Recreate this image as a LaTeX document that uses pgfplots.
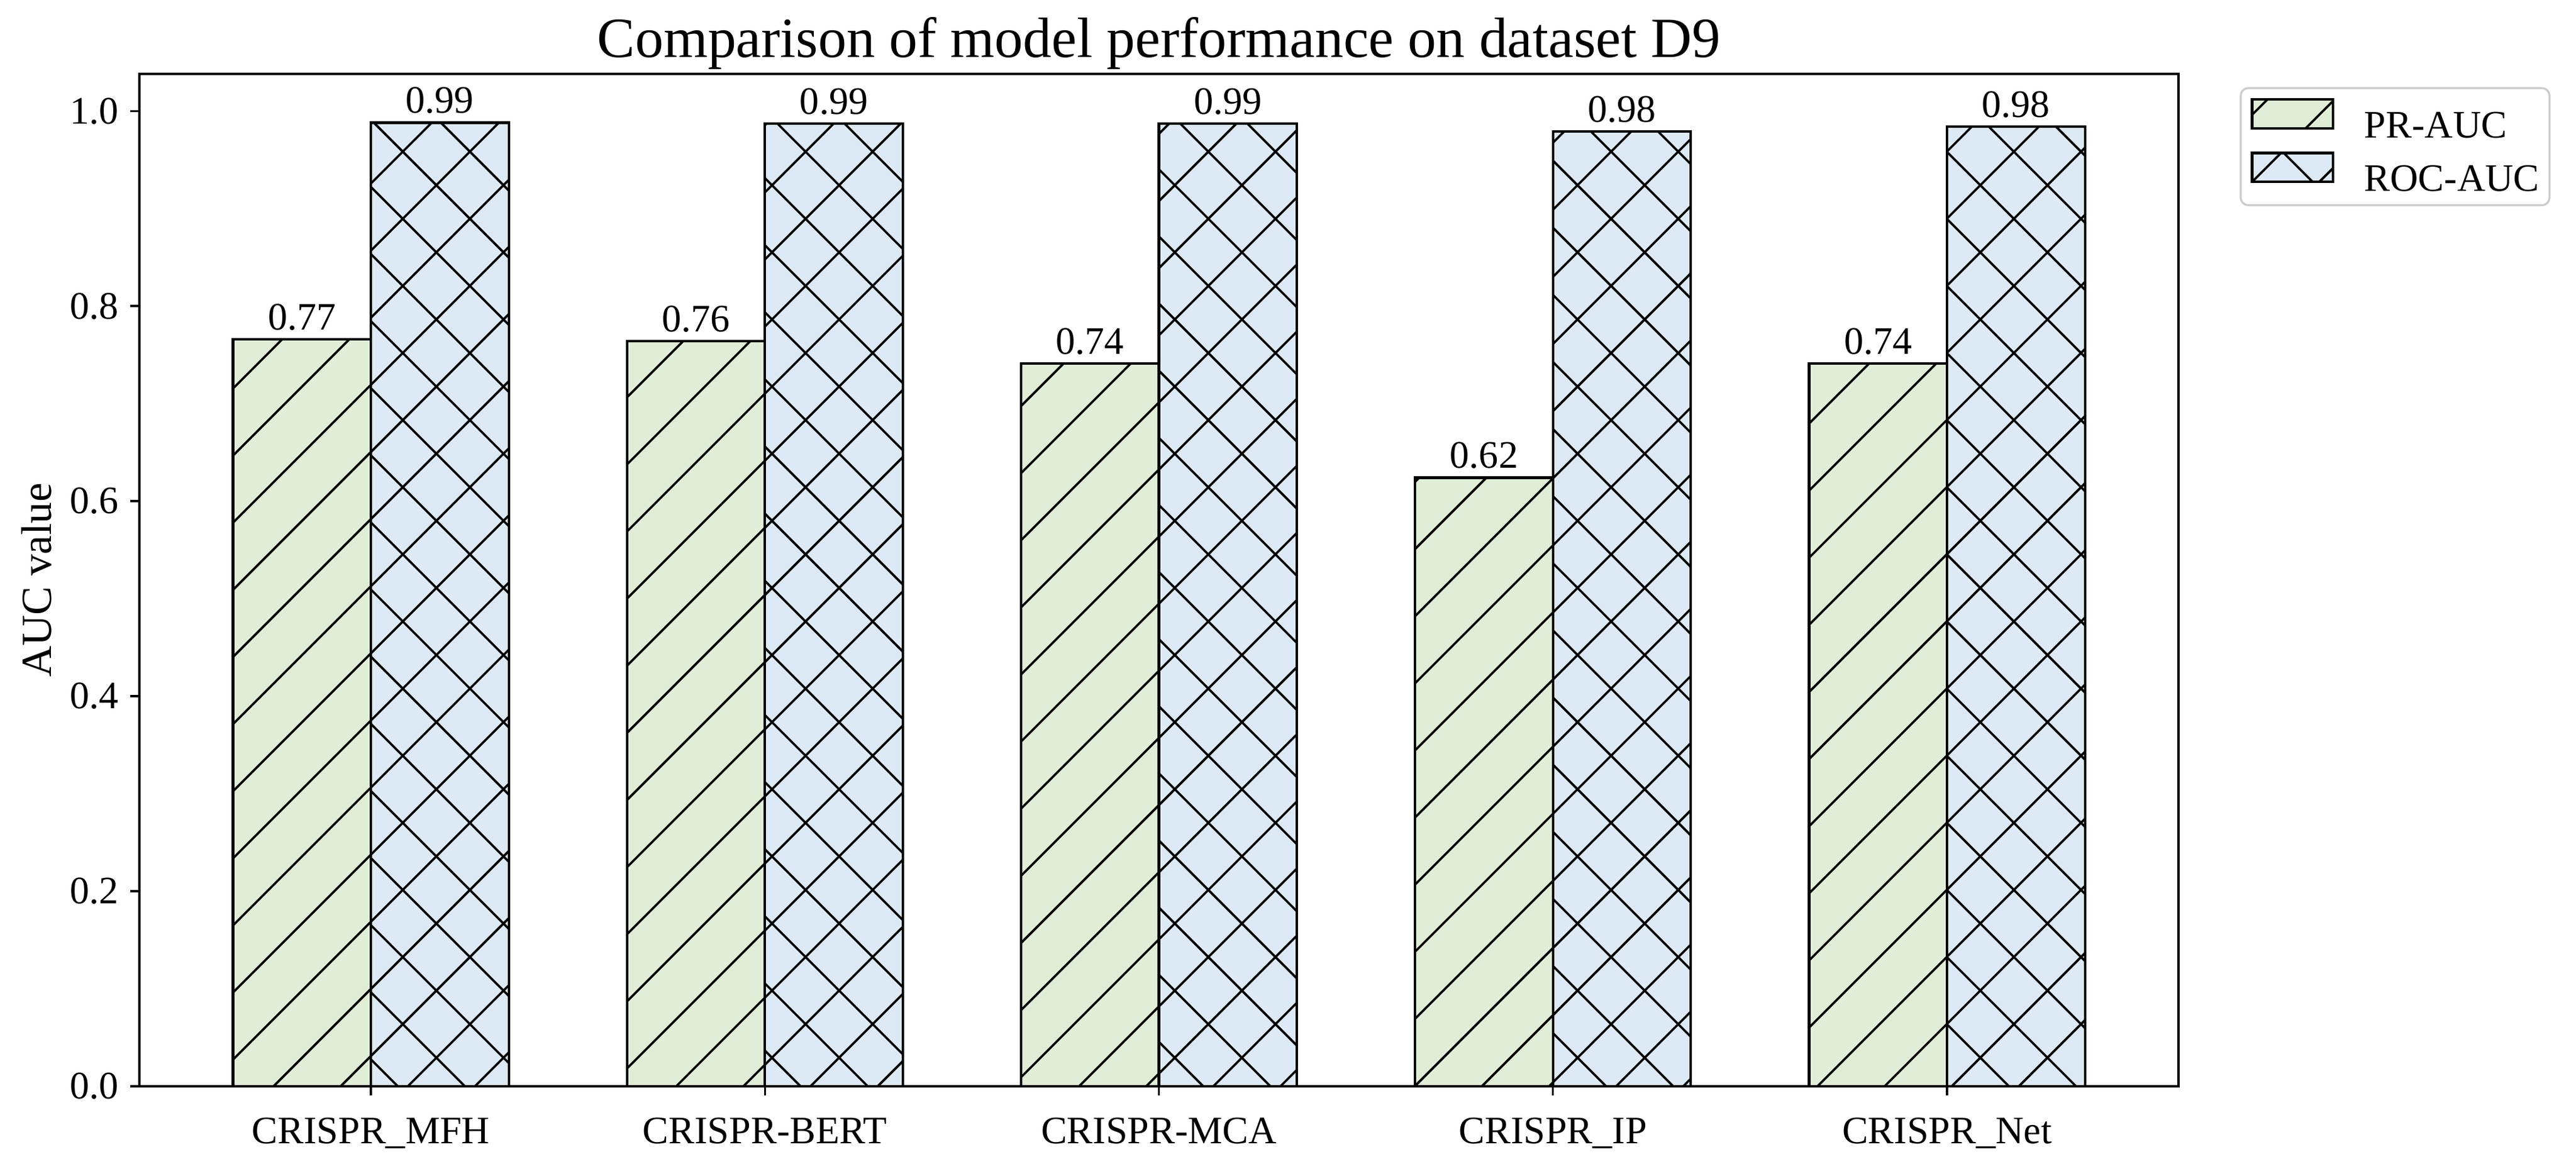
\documentclass[border=0pt]{standalone}
\usepackage{fontspec}
\setmainfont{Liberation Serif}
\usepackage{pgfplots}
\pgfplotsset{compat=1.18}
\usetikzlibrary{patterns.meta}
\definecolor{prfill}{HTML}{E0EED8}
\definecolor{rocfill}{HTML}{DDEAF5}
\newcommand{\fs}{\fontsize{15.4}{18}\selectfont}
\begin{document}
\begin{tikzpicture}
\path[use as bounding box] (-55.2pt,-28.56pt) rectangle (965.04pt,430.32pt);
\begin{axis}[
  scale only axis,
  width=807.6pt, height=401.04pt,
  at={(0pt,0pt)}, anchor=south west,
  xmin=-0.5875, xmax=4.5875,
  ymin=0, ymax=1.038,
  xtick={0,1,2,3,4},
  xticklabels={CRISPR\_MFH,CRISPR-BERT,CRISPR-MCA,CRISPR\_IP,CRISPR\_Net},
  ytick={0,0.2,0.4,0.6,0.8,1.0},
  yticklabels={0.0,0.2,0.4,0.6,0.8,1.0},
  tick align=outside,
  xtick pos=bottom, ytick pos=left,
  major tick length=3.6pt,
  every tick/.style={black, line width=0.8pt},
  axis line style={line width=0.9pt},
  tick label style={font=\fs},
  x tick label style={anchor=base, yshift=-19pt, inner sep=0pt},
  y tick label style={inner sep=0pt, xshift=-4.4pt},
  /pgf/number format/assume math mode=true,
  title={Comparison of model performance on dataset D9},
  every axis title shift=0pt,
  title style={font=\fontsize{22.5}{26}\selectfont, at={(axis description cs:0.5,1)}, anchor=base, yshift=6.5pt, inner sep=0pt},
  ylabel={AUC value},
  ylabel style={font=\fontsize{17}{20}\selectfont, at={(axis description cs:-0.0505,0.5)}, anchor=center},
  bar width=0.35,
  nodes near coords={\pgfmathprintnumber[fixed,fixed zerofill,precision=2]{\pgfplotspointmeta}},
  every node near coord/.append style={font=\fs, inner sep=0pt, anchor=south, yshift=3pt, black},
  legend style={at={(1.030,0.9870)}, anchor=north west, draw=black!20, line width=0.8pt, rounded corners=3pt, fill=white,
    font=\fs, inner xsep=4pt, inner ysep=4pt, row sep=4pt,
    nodes={inner sep=0pt},
    /tikz/every odd column/.style={column sep=12pt}},
  legend cell align=left,
  legend image code/.code={\draw[#1, sharp corners, line width=1pt] (0pt,-0.65pt) rectangle (32pt,10.85pt);},
]
\addplot[ybar, bar shift=0pt, fill=prfill, draw=black, line width=1pt,
  postaction={pattern={Lines[angle=45,distance=18.8pt,line width=0.9pt]}, pattern color=black}]
  coordinates {(-0.175,0.766) (0.825,0.764) (1.825,0.741) (2.825,0.624) (3.825,0.741)};
\addlegendentry{PR-AUC}
\addplot[ybar, bar shift=0pt, fill=rocfill, draw=black, line width=1pt,
  postaction={pattern={Lines[angle=45,distance=18.8pt,line width=0.9pt]}, pattern color=black},
  postaction={pattern={Lines[angle=-45,distance=18.8pt,line width=0.9pt]}, pattern color=black}]
  coordinates {(0.175,0.988) (1.175,0.987) (2.175,0.987) (3.175,0.979) (4.175,0.984)};
\addlegendentry{ROC-AUC}
\end{axis}
\end{tikzpicture}
\end{document}
